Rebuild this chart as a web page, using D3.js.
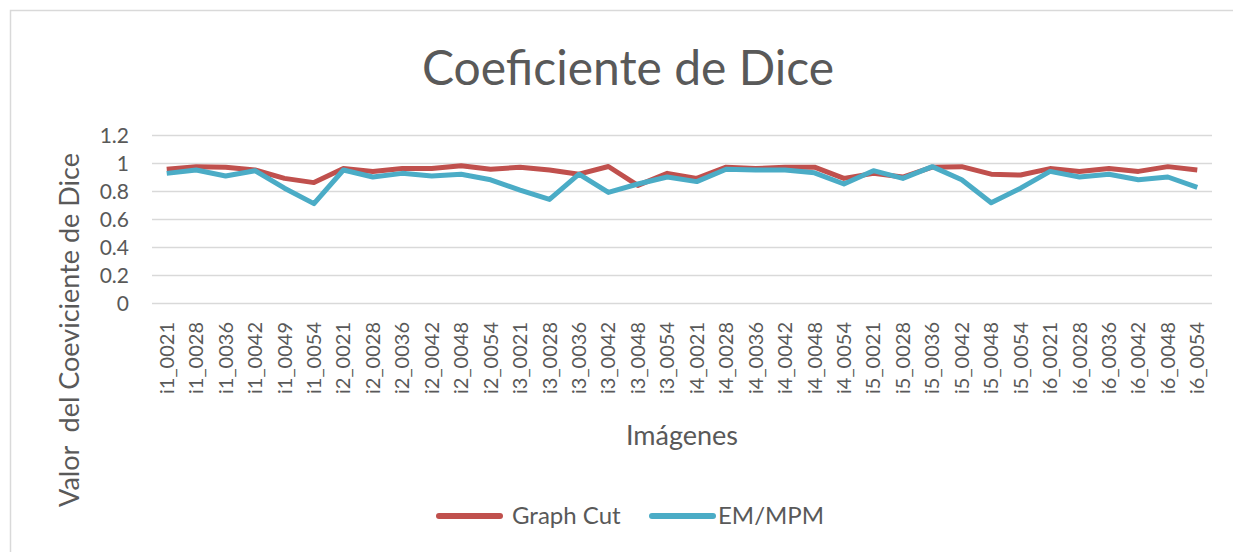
<!DOCTYPE html>
<html>
<head>
<meta charset="utf-8">
<script src="https://cdn.jsdelivr.net/npm/d3@7"></script>
<style>
  body { margin: 0; background: #fff; }
  svg text { font-family: Lato, "Open Sans", sans-serif; fill: #595959; }
</style>
</head>
<body>
<div id="chart"></div>
<script>
// image names along the x axis
const images = [
    "i1_0021", "i1_0028", "i1_0036", "i1_0042", "i1_0049", "i1_0054",
    "i2_0021", "i2_0028", "i2_0036", "i2_0042", "i2_0048", "i2_0054",
    "i3_0021", "i3_0028", "i3_0036", "i3_0042", "i3_0048", "i3_0054",
    "i4_0021", "i4_0028", "i4_0036", "i4_0042", "i4_0048", "i4_0054",
    "i5_0021", "i5_0028", "i5_0036", "i5_0042", "i5_0048", "i5_0054",
    "i6_0021", "i6_0028", "i6_0036", "i6_0042", "i6_0048", "i6_0054"
];

const graphCut = [
    0.955, 0.974, 0.97, 0.95, 0.89, 0.86,
    0.96, 0.94, 0.96, 0.96, 0.98, 0.955,
    0.97, 0.95, 0.92, 0.975, 0.84, 0.926,
    0.89, 0.97, 0.96, 0.97, 0.97, 0.89,
    0.926, 0.90, 0.97, 0.974, 0.92, 0.914,
    0.96, 0.94, 0.96, 0.94, 0.974, 0.95
];

const emMpm = [
    0.926, 0.95, 0.907, 0.945, 0.82, 0.71,
    0.95, 0.90, 0.926, 0.907, 0.92, 0.88,
    0.807, 0.74, 0.92, 0.79, 0.85, 0.90,
    0.867, 0.955, 0.95, 0.95, 0.93, 0.85,
    0.945, 0.89, 0.974, 0.88, 0.716, 0.82,
    0.94, 0.90, 0.92, 0.88, 0.90, 0.826
];

const yTicks = [0, 0.2, 0.4, 0.6, 0.8, 1, 1.2];

const seriesNames = ["Graph Cut", "EM/MPM"];
const seriesColors = ["#c0504d", "#4bacc6"];

const W = 1233, H = 552;
const margin = {top: 135, right: 21, bottom: 249, left: 152};

let svg = d3.select("#chart").append("svg")
    .attr("width", W)
    .attr("height", H);

// chart frame
svg.append("rect")
    .attr("x", 10.5).attr("y", 10.5)
    .attr("width", W + 20).attr("height", H + 20)
    .attr("fill", "none")
    .attr("stroke", "#d9d9d9")
    .attr("stroke-width", 1.5);

let x = d3.scaleBand()
    .domain(images)
    .range([margin.left, W - margin.right]);

let y = d3.scaleLinear()
    .domain([0, 1.2])
    .range([H - margin.bottom, margin.top]);

// gridlines
let grid = svg.append("g")
    .attr("transform", "translate(" + margin.left + ",0)")
    .call(d3.axisLeft(y).tickValues(yTicks)
        .tickSize(-(W - margin.right - margin.left)).tickFormat(""));
grid.select(".domain").remove();
grid.selectAll("line").attr("stroke", "#d9d9d9").attr("stroke-width", 1.5);

// y tick labels
let yaxis = svg.append("g")
    .attr("transform", "translate(129,0)")
    .call(d3.axisLeft(y).tickValues(yTicks).tickSize(0)
        .tickFormat(d => d3.format("")(+d.toFixed(1))));
yaxis.select(".domain").remove();
yaxis.selectAll("text")
    .attr("font-size", 21)
    .attr("fill", "#595959")
    .attr("x", 0)
    .attr("dy", "0.35em");

// x tick labels
let xaxis = svg.append("g")
    .attr("transform", "translate(0," + (H - margin.bottom) + ")")
    .call(d3.axisBottom(x).tickSize(0));
xaxis.select(".domain").remove();
xaxis.selectAll("text")
    .attr("font-size", 20)
    .attr("fill", "#595959")
    .attr("text-anchor", "end")
    .attr("transform", "rotate(-90)")
    .attr("x", -19)
    .attr("y", 0)
    .attr("dy", "0.35em");

// lines
let line = d3.line()
    .x((d, i) => x(images[i]) + x.bandwidth() / 2)
    .y(d => y(d));

[graphCut, emMpm].forEach((s, k) => {
    svg.append("path")
        .datum(s)
        .attr("d", line)
        .attr("fill", "none")
        .attr("stroke", seriesColors[k])
        .attr("stroke-width", 5)
        .attr("stroke-linejoin", "round");
});

// titles
svg.append("text")
    .attr("x", 628).attr("y", 85)
    .attr("text-anchor", "middle")
    .attr("font-size", 48)
    .text("Coeficiente de Dice");

svg.append("text")
    .attr("x", 682).attr("y", 445)
    .attr("text-anchor", "middle")
    .attr("font-size", 27)
    .text("Imágenes");

svg.append("text")
    .attr("transform", "translate(79,330) rotate(-90)")
    .attr("text-anchor", "middle")
    .attr("font-size", 27)
    .attr("xml:space", "preserve")
    .text("Valor  del Coeviciente de Dice");

// legend
let legendX = [439, 652];
seriesNames.forEach((n, k) => {
    let g = svg.append("g").attr("transform", "translate(" + legendX[k] + ",516)");
    g.append("line")
        .attr("x1", 0).attr("x2", 61)
        .attr("stroke", seriesColors[k])
        .attr("stroke-width", 6)
        .attr("stroke-linecap", "round");
    g.append("text")
        .attr("x", k === 0 ? 73 : 66)
        .attr("dy", "0.35em")
        .attr("font-size", 24)
        .text(n);
});
</script>
</body>
</html>
